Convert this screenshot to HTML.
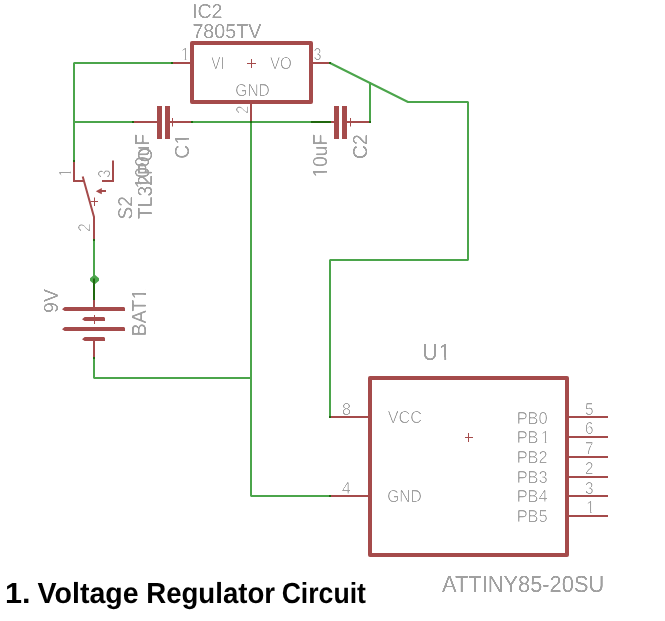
<!DOCTYPE html>
<html>
<head>
<meta charset="utf-8">
<title>1. Voltage Regulator Circuit</title>
<style>
html,body{margin:0;padding:0;background:#fff;}
body{width:665px;height:621px;overflow:hidden;}
svg{display:block;will-change:transform;}
text{font-family:"Liberation Sans",sans-serif;text-rendering:geometricPrecision;}
.n{stroke:#4ba54b;stroke-width:2;fill:none;stroke-linecap:butt;stroke-linejoin:bevel;}
.d{stroke:#20680e;stroke-width:2;fill:none;}
.r{stroke:#a54b4b;stroke-width:2;fill:none;}
.b{stroke:#a54b4b;stroke-width:4;fill:none;stroke-linejoin:round;}
.t{stroke:#a54b4b;stroke-width:1;fill:none;}
.g{fill:#a0a0a0;}
.h{fill:#000000;font-weight:bold;}
.a,.b2{filter:url(#fa);}
.p{stroke:#ffffff;stroke-width:0.35;filter:url(#fp);}
</style>
</head>
<body>
<svg width="665" height="621" viewBox="0 0 665 621">
<rect width="665" height="621" fill="#ffffff"/>
<defs>
<filter id="fa" x="-5%" y="-5%" width="110%" height="110%" color-interpolation-filters="sRGB"><feFlood flood-color="#ffffff" result="w"/><feComposite in="SourceGraphic" in2="w" operator="over"/><feComponentTransfer><feFuncR type="table" tableValues="0.627 0.627 0.627 0.627 0.627 0.627 0.627 0.627 0.627 0.627 0.627 0.627 0.627 0.627 0.627 0.627 0.627 0.627 0.627 0.627 0.627 0.627 0.627 0.627 0.627 0.627 0.627 0.627 0.627 0.627 0.654 0.717 0.779 0.842 0.904 0.967 1 1 1 1 1"/></feComponentTransfer><feColorMatrix type="matrix" values="0 0 0 0 0.6275 0 0 0 0 0.6275 0 0 0 0 0.6275 -2.685 0 0 0 2.685"/></filter>
<filter id="fp" x="-5%" y="-5%" width="110%" height="110%" color-interpolation-filters="sRGB"><feFlood flood-color="#ffffff" result="w"/><feComposite in="SourceGraphic" in2="w" operator="over"/><feComponentTransfer><feFuncR type="table" tableValues="0.627 0.627 0.627 0.627 0.627 0.627 0.627 0.627 0.627 0.627 0.627 0.627 0.627 0.627 0.627 0.627 0.627 0.627 0.627 0.627 0.627 0.627 0.627 0.627 0.627 0.627 0.627 0.627 0.627 0.627 0.627 0.67 0.733 0.795 0.858 0.92 0.983 1 1 1 1"/></feComponentTransfer><feColorMatrix type="matrix" values="0 0 0 0 0.6275 0 0 0 0 0.6275 0 0 0 0 0.6275 -2.685 0 0 0 2.685"/></filter>
<clipPath id="k-p1" clipPathUnits="userSpaceOnUse"><path clip-rule="evenodd" d="M-10 -40H200V20H-10ZM0.84 -2.19H4.33V3H0.84ZM5.90 -2.19H9.29V3H5.90Z"/></clipPath>
<clipPath id="k-c1" clipPathUnits="userSpaceOnUse"><path clip-rule="evenodd" d="M-10 -40H200V20H-10ZM15.56 -2.41H19.64V3H15.56ZM21.46 -2.41H25.43V3H21.46Z"/></clipPath>
<clipPath id="k-100uf" clipPathUnits="userSpaceOnUse"><path clip-rule="evenodd" d="M-10 -40H200V20H-10ZM0.99 -2.41H5.06V3H0.99ZM6.88 -2.41H10.85V3H6.88Z"/></clipPath>
<clipPath id="k-10uf" clipPathUnits="userSpaceOnUse"><path clip-rule="evenodd" d="M-10 -40H200V20H-10ZM0.99 -2.41H5.06V3H0.99ZM6.88 -2.41H10.85V3H6.88Z"/></clipPath>
<clipPath id="k-s1" clipPathUnits="userSpaceOnUse"><path clip-rule="evenodd" d="M-10 -40H200V20H-10ZM0.84 -2.19H4.33V3H0.84ZM5.90 -2.19H9.29V3H5.90Z"/></clipPath>
<clipPath id="k-bat" clipPathUnits="userSpaceOnUse"><path clip-rule="evenodd" d="M-10 -40H200V20H-10ZM38.74 -2.41H42.81V3H38.74ZM44.63 -2.41H48.60V3H44.63Z"/></clipPath>
<clipPath id="k-u1" clipPathUnits="userSpaceOnUse"><path clip-rule="evenodd" d="M-10 -40H200V20H-10ZM19.35 -2.64H24.05V3H19.35ZM26.15 -2.64H30.73V3H26.15Z"/></clipPath>
<clipPath id="k-pb1" clipPathUnits="userSpaceOnUse"><path clip-rule="evenodd" d="M-10 -40H200V20H-10ZM26.09 -2.19H29.58V3H26.09ZM31.15 -2.19H34.54V3H31.15Z"/></clipPath>
<clipPath id="k-u1p" clipPathUnits="userSpaceOnUse"><path clip-rule="evenodd" d="M-10 -40H200V20H-10ZM0.84 -2.19H4.33V3H0.84ZM5.90 -2.19H9.29V3H5.90Z"/></clipPath>
</defs>

<!-- nets -->
<g class="n">
<path d="M173 63H74M74 62.5V161"/>
<path d="M74 122H134"/>
<path d="M192 122H311"/>
<path d="M251 121V496H331"/>
<path d="M94 240V279"/>
<path d="M94 358V378H252"/>
<path d="M330 63L408 102H468V260H330M330 259.5V418"/>
<path d="M370 82V123"/>
</g>
<path d="M94.5 274.6L99 278.2V280.8L94.5 284.4L90 280.8V278.2Z" fill="#4ba54b"/>
<path class="d" d="M94 278.5V300M311 122H331"/>
<!-- wire / pin overlaps -->
<path fill="#1f6a10" d="M171 62h2v2h-2zM329 62h2v2h-2zM132 121h2v2h-2zM191 121h2v2h-2zM250 121h2v2h-2zM369 121h2v2h-2zM73 160h2v2h-2zM93 239h2v2h-2zM93 357h2v2h-2zM329 416h2v2h-2zM329 495h2v2h-2z"/>

<!-- IC2 : 7805TV regulator -->
<g>
<rect class="b" x="192" y="43" width="119" height="59"/>
<path class="r" d="M173 63H190M313 63H329M251 104V121"/>
<path class="t" d="M247 63.5H256M251.5 59V68"/>
<text class="g a" font-size="20.2" transform="translate(191.94 18.00) scale(0.975 1)">IC2</text>
<text class="g a" font-size="20.2" transform="translate(192.42 38.00) scale(0.975 1)">7805TV</text>
<text class="g p" font-size="17.3" transform="translate(211.31 69.00) scale(0.795 1)">VI</text>
<text class="g p" font-size="17.3" transform="translate(270.01 69.00) scale(0.875 1)">VO</text>
<text class="g p" font-size="17.3" transform="translate(235.32 96.00) scale(0.898 1)">GND</text>
<text class="g p" font-size="17.3" transform="translate(180.82 60.00) scale(0.920 1)" clip-path="url(#k-p1)">1</text>
<text class="g p" font-size="17.3" transform="translate(313.56 60.00) scale(0.828 1)">3</text>
<text class="g p" font-size="17.3" transform="translate(248.20 113.75) rotate(-90) scale(0.862 1)">2</text>
</g>

<!-- C1 -->
<g>
<path class="r" d="M134 122H158M170 122H191"/>
<rect x="157" y="106" width="5" height="33" fill="#a54b4b"/>
<rect x="165" y="106" width="5" height="33" fill="#a54b4b"/>
<path class="t" d="M172.5 118V126.5"/>
<text class="g a" font-size="20.2" transform="translate(188.80 158.67) rotate(-90) scale(0.960 1)" clip-path="url(#k-c1)">C1</text>
<text class="g a" font-size="20.2" transform="translate(149.06 188.61) rotate(-90) scale(0.955 1)" clip-path="url(#k-100uf)">100uF</text>
</g>

<!-- C2 -->
<g>
<path class="r" d="M331 122H335M346 122H369"/>
<rect x="334" y="106" width="5" height="33" fill="#a54b4b"/>
<rect x="342" y="106" width="5" height="33" fill="#a54b4b"/>
<path class="t" d="M350.5 118V126.5"/>
<text class="g a" font-size="20.2" transform="translate(366.96 159.08) rotate(-90) scale(0.960 1)">C2</text>
<text class="g a" font-size="20.2" transform="translate(326.86 177.58) rotate(-90) scale(0.950 1)" clip-path="url(#k-10uf)">10uF</text>
</g>

<!-- S2 -->
<g>
<path class="r" d="M74 162V181H84M82.7 176.5L94 217V239M113 160.5V181H102"/>
<path class="r" d="M100 191H106"/>
<path d="M95.8 191.2L99 189.4L101.8 187.9V194.3L99 193Z" fill="#a54b4b"/>
<path class="t" d="M90.5 201.5H98M94.5 197.5V206"/>
<text class="g p" font-size="17.3" transform="translate(70.90 177.23) rotate(-90) scale(0.920 1)" clip-path="url(#k-s1)">1</text>
<text class="g p" font-size="17.3" transform="translate(110.05 177.75) rotate(-90) scale(0.852 1)">3</text>
<text class="g p" font-size="17.3" transform="translate(90.26 231.89) rotate(-90) scale(0.912 1)">2</text>
<text class="g a" font-size="20.2" transform="translate(132.16 219.56) rotate(-90) scale(0.955 1)">S2</text>
<text class="g a" font-size="20.2" transform="translate(151.80 219.08) rotate(-90) scale(0.955 1)">TL32PO</text>
</g>

<!-- BAT1 -->
<g>
<path class="r" d="M94 300V309M94 339V357"/>
<path d="M62 309.3L64.7 307H124L125 308V311H64.7ZM82 319.3L84.7 317H104L105 318V321H84.7ZM62 329.3L64.7 327H124L125 328V331H64.7ZM82 339.3L84.7 337H104L105 338V341H84.7Z" fill="#a54b4b"/>
<path class="t" d="M94.5 315V324"/>
<text class="g a" font-size="20.2" transform="translate(57.76 313.08) rotate(-90) scale(0.970 1)">9V</text>
<text class="g a" font-size="20.2" transform="translate(145.84 336.41) rotate(-90) scale(0.970 1)" clip-path="url(#k-bat)">BAT1</text>
</g>

<!-- U1 : ATTINY85 -->
<g>
<rect class="b" x="370" y="378" width="197" height="177"/>
<path class="r" d="M331 417H368M331 496H368M569 417H608M569 437H608M569 457H608M569 477H608M569 496H608M569 516H608"/>
<path class="t" d="M465 437.5H473M468.5 433V442"/>
<text class="g b2" font-size="23.3" transform="translate(422.60 360.00) scale(0.900 1)" clip-path="url(#k-u1)">U<tspan dx="1.4">1</tspan></text>
<text class="g b2" font-size="23.3" transform="translate(442.06 592.00) scale(0.937 1)">ATTINY85-20SU</text>
<text class="g p" font-size="17.3" transform="translate(387.70 423.00) scale(0.939 1)">VCC</text>
<text class="g p" font-size="17.3" transform="translate(387.22 502.00) scale(0.900 1)">GND</text>
<text class="g p" font-size="17.3" transform="translate(516.65 424.00) scale(0.952 1)">PB0</text>
<text class="g p" font-size="17.3" transform="translate(516.65 443.00) scale(0.952 1)" clip-path="url(#k-pb1)">PB<tspan dx="2.2">1</tspan></text>
<text class="g p" font-size="17.3" transform="translate(516.65 463.00) scale(0.952 1)">PB2</text>
<text class="g p" font-size="17.3" transform="translate(516.65 483.00) scale(0.952 1)">PB3</text>
<text class="g p" font-size="17.3" transform="translate(516.65 502.00) scale(0.952 1)">PB4</text>
<text class="g p" font-size="17.3" transform="translate(516.65 522.00) scale(0.952 1)">PB5</text>
<text class="g p" font-size="17.3" transform="translate(341.99 415.00) scale(0.937 1)">8</text>
<text class="g p" font-size="17.3" transform="translate(341.79 494.00) scale(0.948 1)">4</text>
<text class="g p" font-size="17.3" transform="translate(584.95 415.00) scale(0.890 1)">5</text>
<text class="g p" font-size="17.3" transform="translate(584.95 434.00) scale(0.890 1)">6</text>
<text class="g p" font-size="17.3" transform="translate(584.95 454.00) scale(0.890 1)">7</text>
<text class="g p" font-size="17.3" transform="translate(584.95 474.00) scale(0.890 1)">2</text>
<text class="g p" font-size="17.3" transform="translate(584.95 494.00) scale(0.890 1)">3</text>
<text class="g p" font-size="17.3" transform="translate(586.12 513.00) scale(0.920 1)" clip-path="url(#k-u1p)">1</text>
</g>

<!-- caption -->
<g>
<text class="h" font-size="29.1" y="602.6"><tspan x="5.09" textLength="25.49" lengthAdjust="spacingAndGlyphs">1.</tspan> <tspan x="37.62" textLength="101.05" lengthAdjust="spacingAndGlyphs">Voltage</tspan> <tspan x="146.20" textLength="128.86" lengthAdjust="spacingAndGlyphs">Regulator</tspan> <tspan x="281.63" textLength="84.35" lengthAdjust="spacingAndGlyphs">Circuit</tspan></text>
</g>
</svg>
</body>
</html>
